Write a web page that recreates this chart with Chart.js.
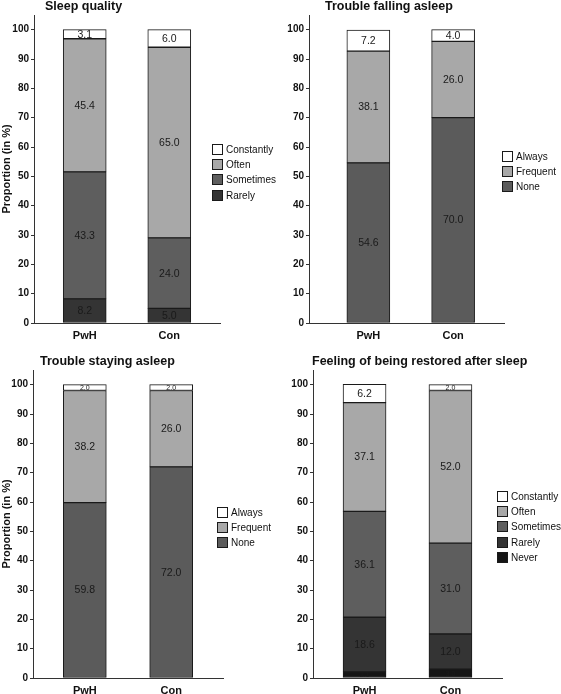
<!DOCTYPE html>
<html>
<head>
<meta charset="utf-8">
<script src="https://cdn.jsdelivr.net/npm/chart.js@4.4.0/dist/chart.umd.min.js"></script>
<style>
  html, body { margin: 0; padding: 0; background: #fff; }
  #wrap { position: relative; width: 561px; height: 694px; overflow: hidden; }
  canvas { position: absolute; }
</style>
</head>
<body>
<div id="wrap">
  <canvas id="c1" style="left:0;top:0" width="280" height="345"></canvas>
  <canvas id="c2" style="left:280px;top:0" width="281" height="345"></canvas>
  <canvas id="c3" style="left:0;top:340px" width="280" height="354"></canvas>
  <canvas id="c4" style="left:280px;top:340px" width="281" height="354"></canvas>
</div>
<script>
const FONT = 'Arial, "Liberation Sans", sans-serif';

const groups = ['PwH', 'Con'];
const yTicks = [0, 10, 20, 30, 40, 50, 60, 70, 80, 90, 100];

// stacked from the bottom up
const qualityLevels = ['Rarely', 'Sometimes', 'Often', 'Constantly'];
const qualityPwH = [8.2, 43.3, 45.4, 3.1];
const qualityCon = [5.0, 24.0, 65.0, 6.0];

const fallingLevels = ['None', 'Frequent', 'Always'];
const fallingPwH = [54.6, 38.1, 7.2];
const fallingCon = [70.0, 26.0, 4.0];

const stayingLevels = ['None', 'Frequent', 'Always'];
const stayingPwH = [59.8, 38.2, 2.0];
const stayingCon = [72.0, 26.0, 2.0];

const restoredLevels = ['Never', 'Rarely', 'Sometimes', 'Often', 'Constantly'];
const restoredPwH = [2.1, 18.6, 36.1, 37.1, 6.2];
const restoredCon = [3.0, 12.0, 31.0, 52.0, 2.0];

const shade = {
  Constantly: '#ffffff', Always: '#ffffff',
  Often: '#a8a8a8', Frequent: '#a8a8a8',
  Sometimes: '#5e5e5e', None: '#5b5b5b',
  Rarely: '#343434', Never: '#151515'
};

// value labels inside segments + title + legend
const deco = {
  id: 'deco',
  afterDatasetsDraw(chart) {
    const ctx = chart.ctx;
    ctx.save();
    ctx.textAlign = 'center';
    ctx.textBaseline = 'middle';
    ctx.fillStyle = '#1a1a1a';
    chart.data.datasets.forEach((ds, di) => {
      chart.getDatasetMeta(di).data.forEach((bar, i) => {
        const v = ds.data[i].y;
        const h = Math.abs(bar.base - bar.y);
        ctx.font = (h < 9 ? '7px ' : '10.5px ') + FONT;
        ctx.fillText(v.toFixed(1), bar.x, (bar.y + bar.base) / 2 + 0.5);
      });
    });
    ctx.restore();
  },
  afterDraw(chart, args, o) {
    const ctx = chart.ctx;
    ctx.save();
    ctx.fillStyle = '#111';
    ctx.textAlign = 'left';
    ctx.textBaseline = 'alphabetic';
    ctx.font = 'bold 12.5px ' + FONT;
    ctx.fillText(o.title, o.titleX, o.titleY);

    ctx.font = '10px ' + FONT;
    ctx.textBaseline = 'middle';
    chart.data.datasets.slice().reverse().forEach((ds, k) => {
      const cy = Math.round(o.legendY + k * 15.2);
      ctx.fillStyle = ds.backgroundColor;
      ctx.fillRect(o.legendX, cy - 5, 10, 10);
      ctx.strokeStyle = '#1a1a1a';
      ctx.lineWidth = 1;
      ctx.strokeRect(o.legendX + 0.5, cy - 4.5, 10, 10);
      ctx.fillStyle = '#111';
      ctx.fillText(ds.label, o.legendX + 14, cy + 1);
    });
    ctx.restore();
  }
};

function makeChart(id, p) {
  const series = [p.pwh, p.con];
  const datasets = p.levels.map((lvl, k) => ({
    label: lvl,
    data: groups.map((g, i) => ({ x: i, y: series[i][k] })),
    backgroundColor: shade[lvl],
    borderColor: '#1a1a1a',
    borderWidth: 1,
    borderSkipped: false,
    barThickness: 43,
    stack: 'all'
  }));

  new Chart(document.getElementById(id), {
    type: 'bar',
    data: { datasets },
    options: {
      responsive: false,
      animation: false,
      layout: { padding: { top: p.top, right: p.right, left: 0, bottom: 0 } },
      plugins: {
        legend: { display: false },
        tooltip: { enabled: false },
        deco: { title: p.title, titleX: p.titleX, titleY: p.titleY, legendX: p.legendX, legendY: p.legendY }
      },
      scales: {
        x: {
          type: 'linear',
          offset: false,
          min: p.xMin,
          max: p.xMax,
          grid: { display: false, drawTicks: false },
          border: { color: '#333', width: 1 },
          afterBuildTicks: s => { s.ticks = groups.map((g, i) => ({ value: i })); },
          afterFit: s => { s.height = p.xh; },
          ticks: {
            padding: 6,
            color: '#111',
            font: { family: FONT, weight: 'bold', size: 11 },
            callback: v => groups[v]
          }
        },
        y: {
          stacked: true,
          min: 0,
          max: 105,
          afterBuildTicks: s => { s.ticks = yTicks.map(v => ({ value: v })); },
          afterFit: s => { s.width = p.yw; },
          grid: { drawOnChartArea: false, drawTicks: true, tickLength: 3, color: '#333' },
          border: { color: '#333', width: 1 },
          ticks: { padding: 2, color: '#111', font: { family: FONT, weight: 'bold', size: 10 } },
          title: {
            display: !!p.yTitle,
            text: p.yTitle,
            color: '#111',
            padding: { top: 0, bottom: 0 },
            font: { family: FONT, weight: 'bold', size: 11 }
          }
        }
      }
    },
    plugins: [deco]
  });
}

makeChart('c1', {
  title: 'Sleep quality', titleX: 45, titleY: 10,
  levels: qualityLevels, pwh: qualityPwH, con: qualityCon,
  yTitle: 'Proportion (in %)',
  top: 15, right: 60, yw: 34, xh: 22, xMin: -0.6, xMax: 1.6,
  legendX: 212, legendY: 149
});

makeChart('c2', {
  title: 'Trouble falling asleep', titleX: 45, titleY: 10,
  levels: fallingLevels, pwh: fallingPwH, con: fallingCon,
  yTitle: '',
  top: 15, right: 57, yw: 29, xh: 22, xMin: -0.7, xMax: 1.6,
  legendX: 222, legendY: 156
});

makeChart('c3', {
  title: 'Trouble staying asleep', titleX: 40, titleY: 25,
  levels: stayingLevels, pwh: stayingPwH, con: stayingCon,
  yTitle: 'Proportion (in %)',
  top: 30, right: 57, yw: 33, xh: 16, xMin: -0.6, xMax: 1.6,
  legendX: 217, legendY: 172
});

makeChart('c4', {
  title: 'Feeling of being restored after sleep', titleX: 32, titleY: 25,
  levels: restoredLevels, pwh: restoredPwH, con: restoredCon,
  yTitle: '',
  top: 30, right: 59, yw: 33, xh: 16, xMin: -0.6, xMax: 1.6,
  legendX: 217, legendY: 156
});
</script>
</body>
</html>
